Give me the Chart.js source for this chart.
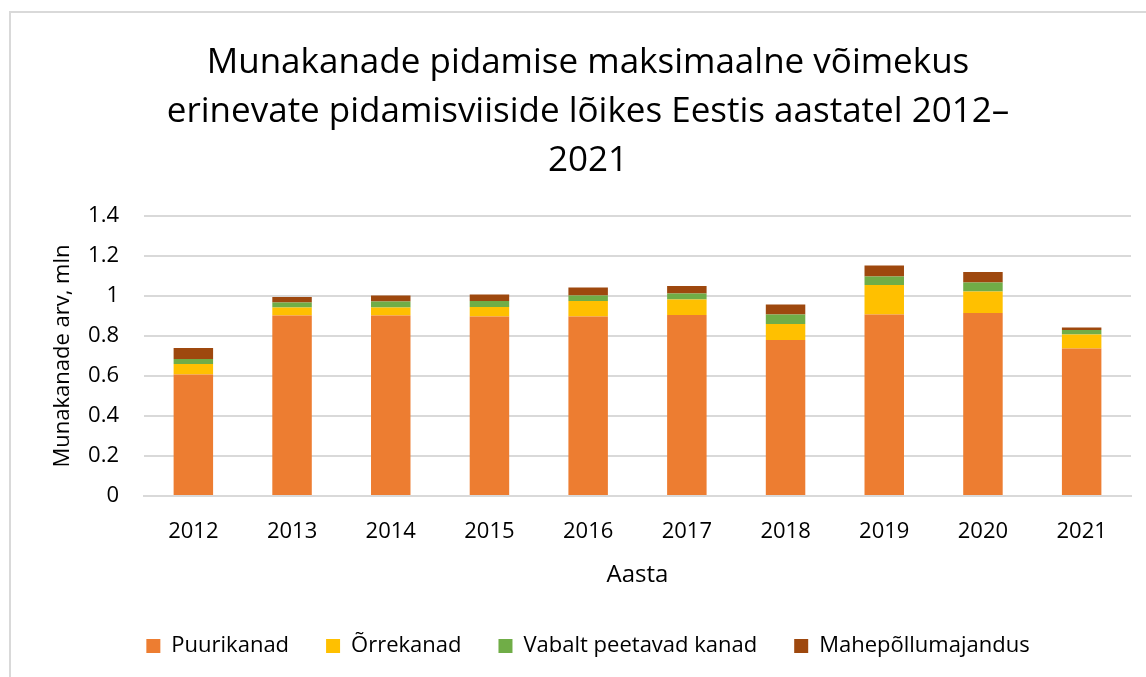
<!DOCTYPE html>
<html>
<head>
<meta charset="utf-8">
<script src="https://cdn.jsdelivr.net/npm/chart.js@4"></script>
<style>
  html, body { margin: 0; padding: 0; background: #fff; overflow: hidden; }
  #frame {
    position: absolute; left: 9px; top: 11px; width: 1200px; height: 700px;
    border-left: 2px solid #d9d9d9; border-top: 2px solid #d9d9d9;
  }
  #wrap { position: absolute; left: 11px; top: 13px; width: 1150px; height: 664px; }
</style>
</head>
<body>
<div id="frame"></div>
<div id="wrap"><canvas id="eggChart"></canvas></div>
<script>
// Aastad
const years = ["2012", "2013", "2014", "2015", "2016", "2017", "2018", "2019", "2020", "2021"];

// Munakanade arv, mln (loetud jooniselt)
const puurikanad = [0.607, 0.903, 0.902, 0.897, 0.897, 0.905, 0.780, 0.907, 0.915, 0.737];
const orrekanad = [0.053, 0.040, 0.040, 0.048, 0.078, 0.077, 0.080, 0.148, 0.107, 0.071];
const vabaltPeetavad = [0.025, 0.024, 0.030, 0.030, 0.028, 0.031, 0.048, 0.043, 0.046, 0.022];
const mahepollumajandus = [0.055, 0.028, 0.030, 0.033, 0.040, 0.037, 0.050, 0.055, 0.052, 0.012];

// Y-telje märgised
const yTicks = [0, 0.2, 0.4, 0.6, 0.8, 1, 1.2, 1.4];

const seriesNames = ["Puurikanad", "Õrrekanad", "Vabalt peetavad kanad", "Mahepõllumajandus"];
const seriesColors = ["#ED7D31", "#FFC000", "#70AD47", "#9E480E"];

const FONT = "'Open Sans', 'Noto Sans', sans-serif";

function makeDataset(i, values) {
    return {
        label: seriesNames[i],
        data: values,
        backgroundColor: seriesColors[i],
        borderWidth: 0,
        barPercentage: 0.8,
        categoryPercentage: 0.5,
    };
}

const ctx = document.getElementById("eggChart").getContext("2d");

new Chart(ctx, {
    type: "bar",
    data: {
        labels: years,
        datasets: [
            makeDataset(0, puurikanad),
            makeDataset(1, orrekanad),
            makeDataset(2, vabaltPeetavad),
            makeDataset(3, mahepollumajandus),
        ],
    },
    options: {
        responsive: true,
        maintainAspectRatio: false,
        animation: false,
        layout: {
            padding: { left: 34, right: 30, top: 0, bottom: 10 },
        },
        plugins: {
            title: {
                display: true,
                text: [
                    "Munakanade pidamise maksimaalne võimekus",
                    "erinevate pidamisviiside lõikes Eestis aastatel 2012–",
                    "2021",
                ],
                color: "#000",
                font: { family: FONT, size: 35, weight: "normal", lineHeight: 1.4 },
                padding: { top: 26, bottom: 30 },
            },
            legend: {
                position: "bottom",
                labels: {
                    color: "#000",
                    font: { family: FONT, size: 22 },
                    boxWidth: 14,
                    boxHeight: 14,
                    padding: 37,
                },
            },
            tooltip: { enabled: false },
        },
        scales: {
            x: {
                stacked: true,
                grid: { display: false, drawTicks: false },
                border: { color: "#d9d9d9", width: 2 },
                ticks: {
                    color: "#000",
                    font: { family: FONT, size: 22 },
                    padding: 23,
                },
                title: {
                    display: true,
                    text: "Aasta",
                    color: "#000",
                    font: { family: FONT, size: 24 },
                    padding: { top: 0, bottom: 8 },
                },
                afterFit: function (scale) {
                    scale.height = 102;
                },
            },
            y: {
                stacked: true,
                min: 0,
                max: 1.4,
                afterBuildTicks: function (scale) {
                    scale.ticks = yTicks.map((v) => ({ value: v }));
                },
                ticks: {
                    color: "#000",
                    font: { family: FONT, size: 22 },
                    padding: 25,
                    callback: (value) => String(value),
                },
                grid: { color: "#d9d9d9", lineWidth: 2, drawTicks: false },
                border: { display: false },
                title: {
                    display: true,
                    text: "Munakanade arv, mln",
                    color: "#000",
                    font: { family: FONT, size: 22 },
                    padding: { top: 5, bottom: 0 },
                },
                afterFit: function (scale) {
                    scale.width = 99;
                },
            },
        },
    },
});
</script>
</body>
</html>
